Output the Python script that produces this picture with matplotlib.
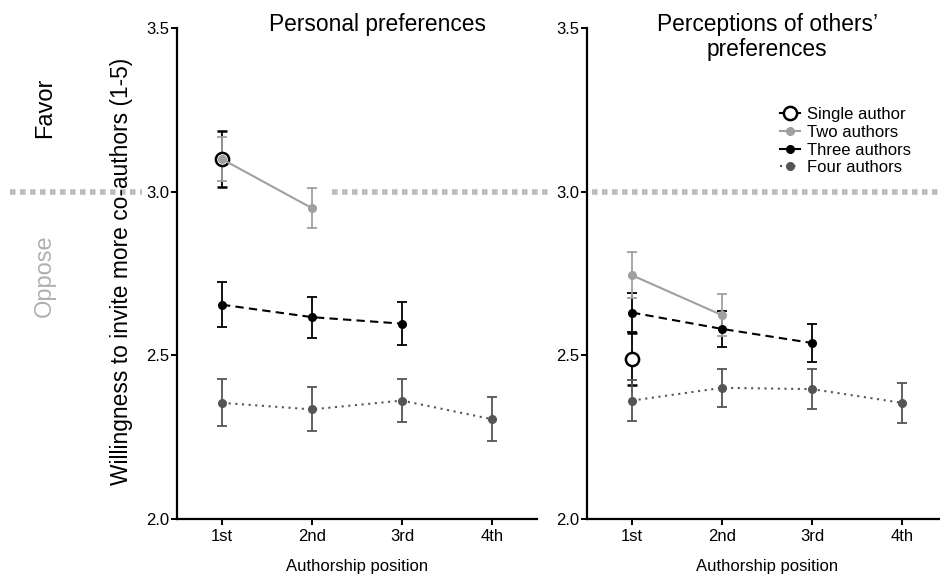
import matplotlib
matplotlib.use("Agg")
from matplotlib import pyplot as plt
from matplotlib import transforms
from matplotlib.lines import Line2D

plt.rcParams['font.family'] = ['Liberation Sans', 'DejaVu Sans']

# authorship positions
positions = ["1st", "2nd", "3rd", "4th"]

# personal preferences (left panel): means and error bar half-widths
single_self = [3.10]
single_self_err = [0.085]
two_self = [3.10, 2.95]
two_self_err = [0.068, 0.061]
three_self = [2.655, 2.617, 2.597]
three_self_err = [0.068, 0.063, 0.065]
four_self = [2.355, 2.335, 2.362, 2.305]
four_self_err = [0.072, 0.067, 0.066, 0.068]

# perceptions of others' preferences (right panel)
single_other = [2.49]
single_other_err = [0.08]
two_other = [2.745, 2.623]
two_other_err = [0.07, 0.064]
three_other = [2.631, 2.581, 2.538]
three_other_err = [0.059, 0.055, 0.057]
four_other = [2.362, 2.401, 2.397, 2.355]
four_other_err = [0.062, 0.059, 0.06, 0.061]

series_names = ["Single author", "Two authors", "Three authors", "Four authors"]

fig = plt.figure(figsize=(9.4, 5.74), dpi=100)
ax1 = fig.add_axes([0.1883, 0.0958, 0.383, 0.855])
ax2 = fig.add_axes([0.6245, 0.0958, 0.383, 0.855])

c_two = "#a0a0a0"
c_four = "#555555"
# line style and marker for each series
styles = [
    dict(color="black", ls="none", marker="o", ms=9.5, mfc="white", mew=1.8),
    dict(color=c_two, ls="-", lw=1.5, marker="o", ms=5.5),
    dict(color="black", ls=(0, (4, 2.5)), lw=1.5, marker="o", ms=5.5),
    dict(color=c_four, ls=(0, (1, 2.2)), lw=1.5, marker="o", ms=5.5),
]


def draw_panel(ax, single, single_err, two, two_err, three, three_err, four, four_err):
    err_kw = dict(capsize=3.6, elinewidth=1.3, capthick=1.3)
    x = [1, 2, 3, 4]
    data = [(single, single_err), (four, four_err), (three, three_err), (two, two_err)]
    style_idx = [0, 3, 2, 1]
    for (vals, errs), si in zip(data, style_idx):
        ax.errorbar(x[:len(vals)], vals, yerr=errs, **styles[si], **err_kw)

    ax.set_xlim(0.5, 4.5)
    ax.set_ylim(2.0, 3.5)
    ax.set_xticks(x)
    ax.set_xticklabels(positions, fontsize=12)
    ax.set_yticks([2.0, 2.5, 3.0, 3.5])
    ax.set_yticklabels(["2.0", "2.5", "3.0", "3.5"], fontsize=12)
    ax.spines["top"].set_visible(False)
    ax.spines["right"].set_visible(False)
    ax.spines["left"].set_linewidth(1.6)
    ax.spines["bottom"].set_linewidth(1.6)
    ax.tick_params(length=4, width=1.4, pad=1.5)
    ax.tick_params(axis="x", pad=3)
    ax.set_xlabel("Authorship position", fontsize=12, labelpad=11)
    ax.patch.set_alpha(0)


draw_panel(ax1, single_self, single_self_err, two_self, two_self_err,
           three_self, three_self_err, four_self, four_self_err)
draw_panel(ax2, single_other, single_other_err, two_other, two_other_err,
           three_other, three_other_err, four_other, four_other_err)

ax1.text(0.556, 0.995, "Personal preferences", transform=ax1.transAxes, fontsize=16.4,
         ha="center", va="baseline")
ax2.text(0.5, 0.995, "Perceptions of others\u2019", transform=ax2.transAxes, fontsize=16.4,
         ha="center", va="baseline")
ax2.text(0.5, 0.944, "preferences", transform=ax2.transAxes, fontsize=16.4,
         ha="center", va="baseline")
ax1.set_ylabel("Willingness to invite more co-authors (1-5)", fontsize=16.4)
ax1.yaxis.set_label_coords(-0.122, 0.505)

# neutral line at 3.0 across the figure
trans = transforms.blended_transform_factory(fig.transFigure, ax1.transData)
for x0, x1 in [(0.011, 0.151), (0.353, 0.587), (0.63, 1.0)]:
    fig.add_artist(Line2D([x0, x1], [3.0, 3.0], transform=trans, color="#bdbdbd",
                          lw=4, ls=(0, (1, 0.8)), zorder=0))

fig.text(0.048, 3.258, "Favor", rotation=90, fontsize=17, ha="center", va="center",
         transform=trans)
fig.text(0.048, 2.745, "Oppose", rotation=90, fontsize=17, ha="center", va="center",
         color="#b0b0b0", transform=trans)

handles = [Line2D([], [], **s) for s in styles]
handles[0] = Line2D([], [], color="black", lw=1.5, marker="o", ms=9.5, mfc="white", mew=1.8)
handles[2] = Line2D([], [], color="black", lw=1.5, marker="o", ms=5.5)
ax2.legend(handles, series_names, loc="upper left", bbox_to_anchor=(0.536, 0.839),
           frameon=False, fontsize=12, handlelength=1.2, handletextpad=0.42,
           labelspacing=0.16, borderpad=0, borderaxespad=0)

plt.savefig("out.png", dpi=100)
